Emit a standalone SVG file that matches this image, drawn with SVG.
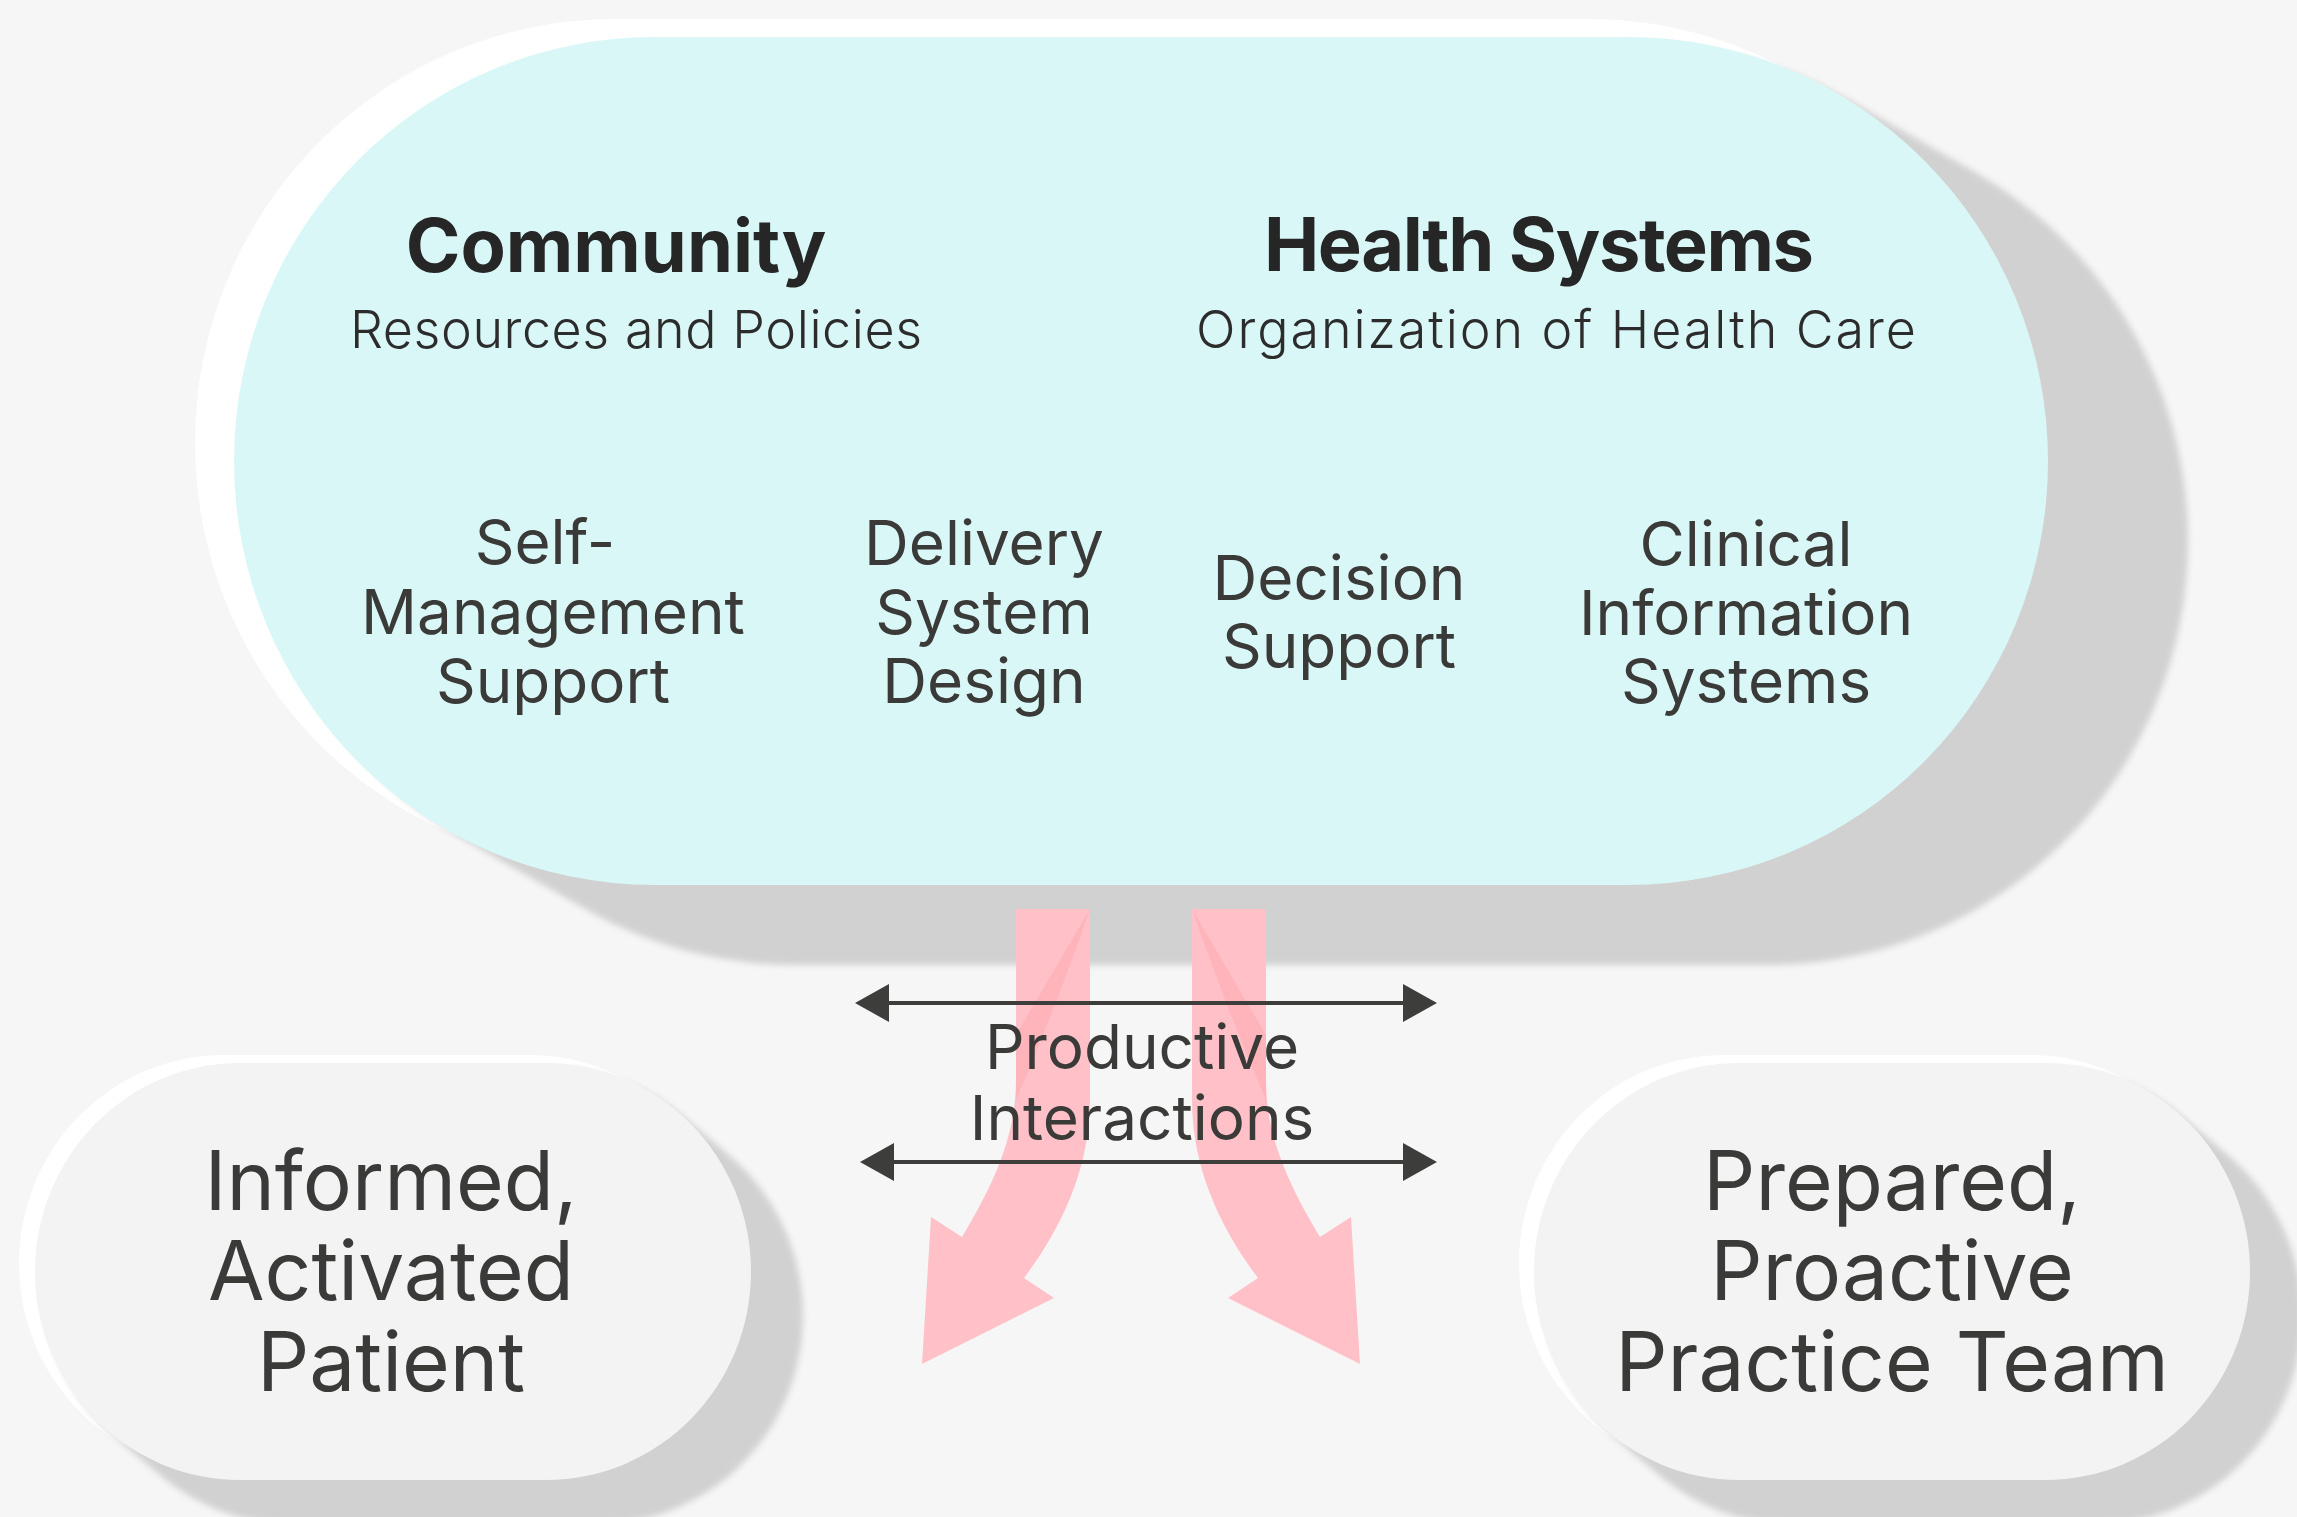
<svg xmlns="http://www.w3.org/2000/svg" xmlns:xlink="http://www.w3.org/1999/xlink" width="2297" height="1517" viewBox="0 0 2297 1517">
<style>
.t{font-family:Inter,"Noto Sans","Liberation Sans",sans-serif;fill:#3a3a38;text-anchor:middle}
.head{font-size:74px;font-weight:700;fill:#262626}
.sub{font-size:52px;font-weight:300;fill:#2c2c2c}
.lab{font-size:62px;font-weight:400}
.big{font-size:82px;font-weight:400}
.pink{fill:#ffc1c7}
.wedge{fill:#ffb3ba}
.dbl{stroke:#3d3d3b;stroke-width:4;fill:none;marker-start:url(#ah);marker-end:url(#ah)}
</style>
<defs>
<rect id="mainShape" x="234" y="37" width="1814" height="848" rx="420" ry="424"/>
<rect id="smallShape" x="0" y="0" width="716" height="417" rx="205" ry="208.5"/>
<filter id="soft" x="-10%" y="-10%" width="120%" height="120%"><feGaussianBlur stdDeviation="3"/></filter>
<marker id="ah" markerUnits="userSpaceOnUse" markerWidth="36" markerHeight="40" viewBox="0 0 36 40" refX="2" refY="20" orient="auto-start-reverse">
<path d="M0,1 L34,20 L0,39 Z" fill="#3d3d3b"/>
</marker>
</defs>
<rect x="0" y="0" width="2297" height="1517" fill="#f6f6f6"/>

<g id="node-main">
<use href="#mainShape" transform="translate(-39,-18)" fill="#ffffff"/>
<g fill="#d1d1d1" filter="url(#soft)">
<use href="#mainShape" transform="translate(14,8)"/>
<use href="#mainShape" transform="translate(28,16)"/>
<use href="#mainShape" transform="translate(42,24)"/>
<use href="#mainShape" transform="translate(56,32)"/>
<use href="#mainShape" transform="translate(70,40)"/>
<use href="#mainShape" transform="translate(84,48)"/>
<use href="#mainShape" transform="translate(98,56)"/>
<use href="#mainShape" transform="translate(112,64)"/>
<use href="#mainShape" transform="translate(126,72)"/>
<use href="#mainShape" transform="translate(140,80)"/>
</g>
<use href="#mainShape" fill="#daf7f7"/>
<text class="t head" x="616" y="272">Community</text>
<text class="t sub" x="636" y="348" textLength="572" lengthAdjust="spacing">Resources and Policies</text>
<text class="t head" x="1539" y="271" textLength="550" lengthAdjust="spacing">Health Systems</text>
<text class="t sub" x="1556" y="348" textLength="720" lengthAdjust="spacing">Organization of Health Care</text>
<g id="comp-self">
<text class="t lab" x="545" y="564">Self-</text>
<text class="t lab" x="553" y="634">Management</text>
<text class="t lab" x="553" y="703">Support</text>
</g>
<g id="comp-delivery">
<text class="t lab" x="984" y="565">Delivery</text>
<text class="t lab" x="984" y="634">System</text>
<text class="t lab" x="984" y="703">Design</text>
</g>
<g id="comp-decision">
<text class="t lab" x="1339" y="600">Decision</text>
<text class="t lab" x="1339" y="668">Support</text>
</g>
<g id="comp-clinical">
<text class="t lab" x="1746" y="566">Clinical</text>
<text class="t lab" x="1746" y="635">Information</text>
<text class="t lab" x="1746" y="703">Systems</text>
</g>
</g>

<g id="node-patient">
<use href="#smallShape" transform="translate(19,1055)" fill="#ffffff"/>
<g fill="#d1d1d1" filter="url(#soft)">
<use href="#smallShape" transform="translate(41.5,1068.5)"/>
<use href="#smallShape" transform="translate(48,1074)"/>
<use href="#smallShape" transform="translate(54.5,1079.5)"/>
<use href="#smallShape" transform="translate(61,1085)"/>
<use href="#smallShape" transform="translate(67.5,1090.5)"/>
<use href="#smallShape" transform="translate(74,1096)"/>
<use href="#smallShape" transform="translate(80.5,1101.5)"/>
<use href="#smallShape" transform="translate(87,1107)"/>
</g>
<use href="#smallShape" transform="translate(35,1063)" fill="#f3f3f3"/>
<text class="t big" x="391" y="1210">Informed,</text>
<text class="t big" x="391" y="1300">Activated</text>
<text class="t big" x="391" y="1391">Patient</text>
</g>

<g id="node-team">
<use href="#smallShape" transform="translate(1519,1055)" fill="#ffffff"/>
<g fill="#d1d1d1" filter="url(#soft)">
<use href="#smallShape" transform="translate(1540.5,1068.5)"/>
<use href="#smallShape" transform="translate(1547,1074)"/>
<use href="#smallShape" transform="translate(1553.5,1079.5)"/>
<use href="#smallShape" transform="translate(1560,1085)"/>
<use href="#smallShape" transform="translate(1566.5,1090.5)"/>
<use href="#smallShape" transform="translate(1573,1096)"/>
<use href="#smallShape" transform="translate(1579.5,1101.5)"/>
<use href="#smallShape" transform="translate(1586,1107)"/>
</g>
<use href="#smallShape" transform="translate(1534,1063)" fill="#f3f3f3"/>
<text class="t big" x="1892" y="1210">Prepared,</text>
<text class="t big" x="1892" y="1300">Proactive</text>
<text class="t big" x="1892" y="1391">Practice Team</text>
</g>

<g id="connectors">
<g id="flow-left">
<path class="pink" d="M1016,909 L1090,909 L1090,1100 C1090,1170 1060,1230 1024,1278 L1054,1298 L922,1364 L931,1217 L962,1237 C990,1190 1016,1140 1016,1080 Z"/>
<path class="wedge" d="M1090,909 L1016,1035 L1016,1100 Q1055,1010 1090,909 Z"/>
</g>
<g id="flow-right">
<path class="pink" d="M1266,909 L1192,909 L1192,1100 C1192,1170 1222,1230 1258,1278 L1228,1298 L1360,1364 L1351,1217 L1320,1237 C1292,1190 1266,1140 1266,1080 Z"/>
<path class="wedge" d="M1192,909 L1266,1035 L1266,1100 Q1227,1010 1192,909 Z"/>
</g>
<line class="dbl" x1="887" y1="1003" x2="1405" y2="1003"/>
<line class="dbl" x1="892" y1="1162" x2="1405" y2="1162"/>
<text class="t lab" x="1142" y="1069" font-size="63">Productive</text>
<text class="t lab" x="1142" y="1140" font-size="63">Interactions</text>
</g>
</svg>
